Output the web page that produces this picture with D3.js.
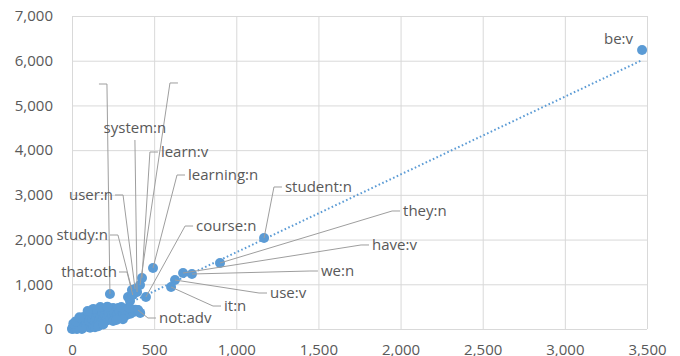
<!DOCTYPE html>
<html>
<head>
<meta charset="utf-8">
<script src="https://cdn.jsdelivr.net/npm/d3@7"></script>
<style>
  html, body { margin: 0; padding: 0; background: #fff; }
  svg { display: block; }
  text { font-family: "Open Sans", sans-serif; fill: #595959; }
</style>
</head>
<body>
<svg id="chart" width="680" height="356"></svg>
<script>
// Axis ticks
const xTicks = [0, 500, 1000, 1500, 2000, 2500, 3000, 3500];
const yTicks = [0, 1000, 2000, 3000, 4000, 5000, 6000, 7000];

// Labelled words: frequency in corpus A (x) vs corpus B (y)
const wordNames = ["be:v", "student:n", "they:n", "have:v", "we:n", "use:v", "it:n",
  "not:adv", "course:n", "learning:n", "learn:v", "system:n", "user:n", "study:n",
  "that:oth", "", ""];
const wordX = [3470, 1169, 901, 676, 730, 627, 603, 402, 450, 493, 426, 396, 384, 365, 370, 231, 414];
const wordY = [6240, 2035, 1476, 1252, 1230, 1096, 939, 425, 716, 1364, 1141, 827, 895, 872, 760, 783, 984];

// Remaining (unlabelled) words
const otherX = [341, 353, 0, 3, 6, 10, 12, 18, 20, 25, 28, 32, 35, 40, 42, 48, 50, 55, 60, 62, 68, 70,
  75, 80, 85, 88, 92, 98, 100, 105, 110, 112, 118, 120, 125, 130, 135, 140, 145, 150, 155,
  160, 165, 170, 175, 180, 185, 190, 195, 200, 205, 210, 215, 220, 225, 230, 238, 245, 250,
  255, 262, 268, 275, 282, 290, 298, 305, 312, 320, 330, 338, 345, 355, 365, 375, 385, 400, 415,
  140, 160, 190, 60, 30, 250, 310, 270, 130, 172, 215, 300, 350, 8, 22, 45, 95];
const otherY = [716, 626, 0, 15, 40, 5, 70, 25, 110, 60, 150, 10, 95, 190, 40, 130, 230, 75, 170, 15, 260, 110,
  210, 50, 290, 150, 240, 90, 320, 190, 30, 270, 130, 360, 220, 70, 300, 170, 390, 250, 110,
  330, 200, 420, 280, 150, 360, 230, 440, 310, 180, 400, 270, 460, 340, 210, 420, 300, 470,
  370, 250, 430, 330, 470, 390, 280, 450, 350, 420, 310, 460, 380, 340, 420, 380, 430, 420, 360,
  40, 60, 100, 0, 0, 180, 220, 200, 450, 490, 500, 490, 470, 120, 170, 260, 400];

// Linear trendline coefficients (y = slope * x + intercept) and its x extent
const trendSlope = 1.74;
const trendIntercept = -25;
const trendRange = [40, 3470];

// Label placement, in data units: anchor where the leader meets the label.
// side: "left" = text to the right of the anchor, "right" = text to the left,
// "above" = text centred above the anchor, "none" = no leader line.
const labelLayout = [
  { name: "be:v",       lx: 3415, ly: 6486, side: "none" },
  { name: "student:n",  lx: 1278, ly: 3176, side: "left" },
  { name: "they:n",     lx: 1997, ly: 2639, side: "left" },
  { name: "have:v",     lx: 1808, ly: 1879, side: "left" },
  { name: "we:n",       lx: 1497, ly: 1297, side: "left" },
  { name: "use:v",      lx: 1187, ly: 805,  side: "left" },
  { name: "it:n",       lx: 907,  ly: 514,  side: "left" },
  { name: "not:adv",    lx: 511,  ly: 246,  side: "left" },
  { name: "course:n",   lx: 737,  ly: 2303, side: "left" },
  { name: "learning:n", lx: 688,  ly: 3444, side: "left" },
  { name: "learn:v",    lx: 523,  ly: 3958, side: "left" },
  { name: "system:n",   lx: 383,  ly: 4227, side: "above" },
  { name: "user:n",     lx: 262,  ly: 2997, side: "right" },
  { name: "study:n",    lx: 231,  ly: 2102, side: "right" },
  { name: "that:oth",   lx: 286,  ly: 1275, side: "right" },
  { name: "",           lx: 164,  ly: 5479, side: "right" },
  { name: "",           lx: 645,  ly: 5502, side: "left" }
];

const svg = d3.select("#chart");
const margin = { left: 72, right: 33, top: 16, bottom: 27 };
const W = 680, H = 356;

const x = d3.scaleLinear().domain([0, 3500]).range([margin.left, W - margin.right]);
const y = d3.scaleLinear().domain([0, 7000]).range([H - margin.bottom, margin.top]);

const gridColor = "#d9d9d9";
const blue = "#5b9bd5";
const fmt = d3.format(",");

// Horizontal gridlines + y labels
const yAxis = svg.append("g")
  .attr("transform", `translate(${margin.left},0)`)
  .call(d3.axisLeft(y).tickValues(yTicks).tickFormat(fmt)
    .tickSize(-(x.range()[1] - x.range()[0])).tickPadding(19));
yAxis.select(".domain").remove();
yAxis.selectAll(".tick line").attr("stroke", gridColor);
yAxis.selectAll(".tick text").attr("font-size", 15).attr("fill", "#595959")
  .style("font-family", "'Open Sans', sans-serif");

// Vertical gridlines + x labels along the bottom edge
const xAxis = svg.append("g")
  .attr("transform", `translate(0,${y(0)})`)
  .call(d3.axisBottom(x).tickValues(xTicks).tickFormat(fmt)
    .tickSize(-(y.range()[0] - y.range()[1])).tickPadding(0));
xAxis.select(".domain").remove();
xAxis.selectAll(".tick line").attr("stroke", gridColor);
xAxis.selectAll(".tick text").attr("font-size", 15).attr("fill", "#595959")
  .attr("dy", null).attr("y", 25.5)
  .style("font-family", "'Open Sans', sans-serif");

// Trendline (dotted)
svg.append("line")
  .attr("x1", x(trendRange[0])).attr("y1", y(trendSlope * trendRange[0] + trendIntercept))
  .attr("x2", x(trendRange[1])).attr("y2", y(trendSlope * trendRange[1] + trendIntercept))
  .attr("stroke", blue).attr("stroke-width", 2)
  .attr("stroke-dasharray", "1.6,2.4");

// Markers
const others = otherX.map((v, i) => ({ x: v, y: otherY[i] }));
const words = wordNames.map((n, i) => ({ name: n, x: wordX[i], y: wordY[i] }));

svg.append("g").selectAll("circle")
  .data(others.concat(words))
  .join("circle")
  .attr("cx", d => x(d.x)).attr("cy", d => y(d.y)).attr("r", 5)
  .attr("fill", blue);

// Leader lines and labels
const hook = 8;
const lead = svg.append("g").attr("fill", "none").attr("stroke", "#9e9e9e").attr("stroke-width", 1);
const labs = svg.append("g");
labelLayout.forEach((l, i) => {
  const p = words[i];
  const ax = x(l.lx), ay = y(l.ly);
  const px = x(p.x), py = y(p.y);
  if (l.side === "none") {
    labs.append("text").attr("x", ax).attr("y", ay).attr("dy", "0.35em")
      .attr("text-anchor", "end").attr("font-size", 15).text(l.name);
    return;
  }
  let pts, tx, anchor, ty = ay;
  if (l.side === "left") {
    pts = [[px, py], [ax - hook, ay], [ax, ay]];
    tx = ax + 3; anchor = "start";
  } else if (l.side === "right") {
    pts = [[px, py], [ax + hook, ay], [ax, ay]];
    tx = ax - 2; anchor = "end";
  } else {
    pts = [[px, py], [ax, ay]];
    tx = ax; anchor = "middle"; ty = ay - 12;
  }
  lead.append("path").attr("d", d3.line()(pts));
  if (l.name) {
    labs.append("text").attr("x", tx).attr("y", ty).attr("dy", "0.35em")
      .attr("text-anchor", anchor).attr("font-size", 15).text(l.name);
  }
});
</script>
</body>
</html>
